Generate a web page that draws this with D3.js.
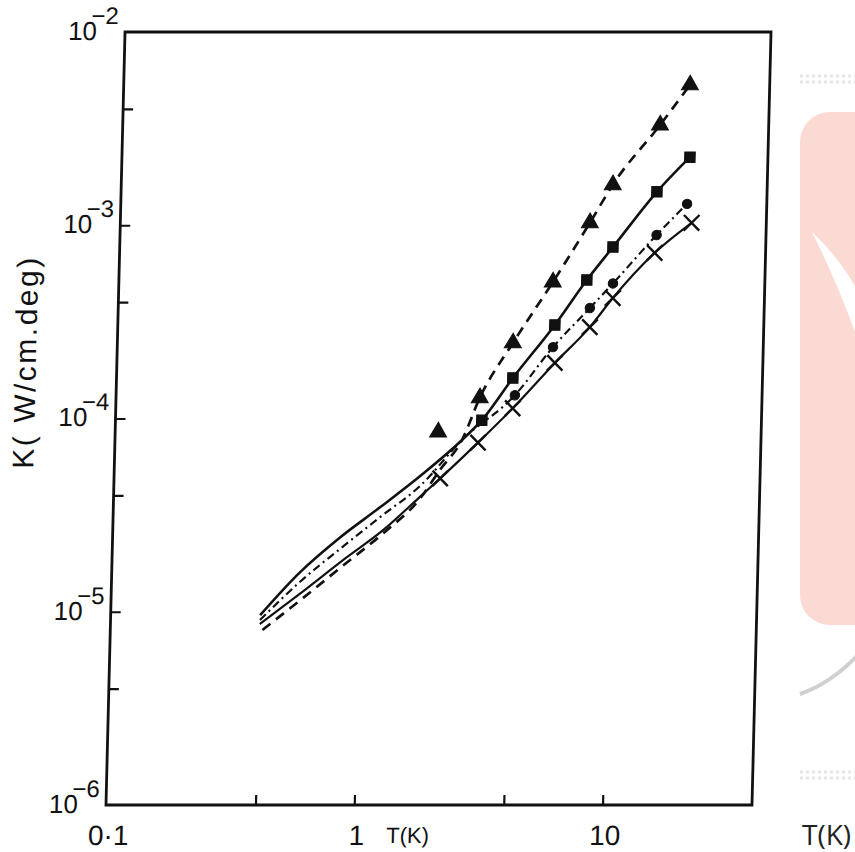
<!DOCTYPE html>
<html>
<head>
<meta charset="utf-8">
<script src="https://cdn.jsdelivr.net/npm/d3@7"></script>
<style>
body { margin: 0; background: #fff; }
svg { display: block; font-family: "Liberation Sans", Arial, sans-serif; }
</style>
</head>
<body>
<div id="chart"></div>
<script>
// values, T in K, K in W/cm.deg
// squares, solid line
var sqCurveT = [0.4, 0.57, 0.82, 1.19, 1.71, 2.5];
var sqCurveK = [9.6e-6, 1.59e-5, 2.41e-5, 3.48e-5, 5.04e-5, 7.74e-5];
var sqMarkT = [2.99, 3.95, 5.76, 7.67, 9.7, 14.4, 19.4];
var sqMarkK = [9.8e-5, 1.62e-4, 3.05e-4, 5.21e-4, 7.71e-4, 1.49e-3, 2.25e-3];

// dots, dash-dot line
var dotCurveT = [0.4, 0.575, 0.825, 1.19, 1.71, 2.5];
var dotCurveK = [9.06e-6, 1.43e-5, 2.11e-5, 3.09e-5, 4.47e-5, 7.74e-5];
var dotMarkT = [4.04, 5.69, 7.94, 9.78, 14.5, 19.1];
var dotMarkK = [1.32e-4, 2.34e-4, 3.73e-4, 5.0e-4, 8.9e-4, 1.29e-3];

// crosses, thin solid line
var crsCurveT = [0.4, 0.594, 0.852, 1.23, 1.71];
var crsCurveK = [8.64e-6, 1.28e-5, 1.85e-5, 2.65e-5, 3.92e-5];
var crsMarkT = [2.06, 2.9, 3.97, 5.81, 7.97, 9.8, 14.3, 20.0];
var crsMarkK = [4.9e-5, 7.5e-5, 1.13e-4, 1.94e-4, 2.97e-4, 4.2e-4, 7.2e-4, 1.03e-3];

// triangles, dashed line (+ one lone point)
var triCurveT = [0.41, 0.594, 0.852, 1.23, 1.71, 2.05, 2.5];
var triCurveK = [8.05e-6, 1.18e-5, 1.73e-5, 2.55e-5, 3.83e-5, 5.42e-5, 7.74e-5];
var triMarkT = [2.92, 3.92, 5.6, 7.79, 9.55, 14.6, 19.1];
var triMarkK = [1.28e-4, 2.46e-4, 5.08e-4, 1.03e-3, 1.62e-3, 3.30e-3, 5.32e-3];
var triLoneT = [2.0];
var triLoneK = [8.5e-5];

// axes
var xTicks = [0.4, 1, 4, 10];
var xLabelVals = [0.1, 1, 10];
var xLabelText = ['0\u00b71', '1', '10'];
var yTicks = [4e-3, 1e-3, 4e-4, 1e-4, 4e-5, 1e-5, 4e-6];
var yLabelExp = [-2, -3, -4, -5, -6];

var width = 855;
var height = 852;

var x = d3.scaleLog().domain([0.1, 40]).range([106, 752]);
var y = d3.scaleLog().domain([1e-6, 1e-2]).range([805, 32]);

var svg = d3.select('#chart').append('svg')
    .attr('width', width)
    .attr('height', height);

// faint watermark on the right side of the scan
var wm = svg.append('g');
wm.append('path')
    .attr('d', 'M800,76 L855,76 M800,82 L855,82')
    .attr('stroke', '#e6e6e6').attr('stroke-width', 3).attr('stroke-dasharray', '3,3');
wm.append('rect')
    .attr('x', 800).attr('y', 112).attr('width', 90).attr('height', 513).attr('rx', 30)
    .attr('fill', '#fcdad4');
wm.append('path')
    .attr('d', 'M812,232 Q840,258 858,292 L858,340 Q838,284 812,232 Z')
    .attr('fill', '#fff');
wm.append('path')
    .attr('d', 'M800,694 Q830,684 858,655')
    .attr('fill', 'none').attr('stroke', '#bcbcbc').attr('stroke-width', 4).attr('opacity', 0.7);
wm.append('path')
    .attr('d', 'M800,772 L855,772 M800,778 L855,778')
    .attr('stroke', '#e6e6e6').attr('stroke-width', 3).attr('stroke-dasharray', '3,3');

svg.append('text')
    .attr('x', 802).attr('y', 845)
    .attr('font-family', '"Open Sans", "Noto Sans", sans-serif')
    .attr('font-size', 28).attr('fill', '#222')
    .text('T(K)');

// the scan is slightly sheared, so the whole figure is skewed a little
var fig = svg.append('g')
    .attr('transform', 'translate(19.8,0) skewX(-1.41)');

fig.append('rect')
    .attr('x', 106).attr('y', 32)
    .attr('width', 646).attr('height', 773)
    .attr('fill', 'none').attr('stroke', '#111').attr('stroke-width', 2.8);

var xAxis = d3.axisBottom(x).tickValues(xTicks).tickSize(-10).tickFormat('');
var yAxis = d3.axisLeft(y).tickValues(yTicks).tickSize(-10).tickFormat('');

fig.append('g')
    .attr('transform', 'translate(0,805)')
    .call(xAxis)
    .call(function (g) { g.select('.domain').remove(); })
    .selectAll('line').attr('stroke', '#111').attr('stroke-width', 2.2);

fig.append('g')
    .attr('transform', 'translate(106,0)')
    .call(yAxis)
    .call(function (g) { g.select('.domain').remove(); })
    .selectAll('line').attr('stroke', '#111').attr('stroke-width', 2.2);

// x tick labels
fig.selectAll('.xlab').data(xLabelVals).enter().append('text')
    .attr('class', 'xlab')
    .attr('x', function (d) { return x(d) + 3; })
    .attr('y', 845)
    .attr('text-anchor', 'middle')
    .attr('font-size', 28).attr('fill', '#111')
    .text(function (d, i) { return xLabelText[i]; });

// axis title, low under the frame as in the scan
fig.append('text')
    .attr('x', 387).attr('y', 843)
    .attr('font-size', 22).attr('fill', '#111')
    .text('T(K)');

// y tick labels 10^n
var ylab = fig.selectAll('.ylab').data(yLabelExp).enter().append('g')
    .attr('class', 'ylab');
ylab.append('text')
    .attr('x', 78)
    .attr('y', function (d) { return y(Math.pow(10, d)) + 8; })
    .attr('text-anchor', 'end')
    .attr('font-size', 26).attr('fill', '#111')
    .text('10');
ylab.append('text')
    .attr('x', 72)
    .attr('y', function (d) { return y(Math.pow(10, d)) - 8; })
    .attr('font-size', 24).attr('fill', '#111')
    .text(function (d) { return '\u2212' + (-d); });

fig.append('text')
    .attr('transform', 'translate(25,362) rotate(-90)')
    .attr('text-anchor', 'middle')
    .attr('font-size', 30).attr('letter-spacing', 2.5).attr('fill', '#111')
    .text('K( W/cm.deg)');

var line = d3.line()
    .x(function (d) { return x(d[0]); })
    .y(function (d) { return y(d[1]); })
    .curve(d3.curveMonotoneX);

var series = [
    { t: sqCurveT.concat(sqMarkT), k: sqCurveK.concat(sqMarkK), dash: null, w: 2.6 },
    { t: dotCurveT.concat(dotMarkT), k: dotCurveK.concat(dotMarkK), dash: '8,4,2,4', w: 2.2 },
    { t: crsCurveT.concat(crsMarkT), k: crsCurveK.concat(crsMarkK), dash: null, w: 2.2 },
    { t: triCurveT.concat(triMarkT), k: triCurveK.concat(triMarkK), dash: '10,7', w: 2.7 }
];

fig.selectAll('.curve').data(series).enter().append('path')
    .attr('class', 'curve')
    .attr('d', function (s) { return line(d3.zip(s.t, s.k)); })
    .attr('fill', 'none')
    .attr('stroke', '#111')
    .attr('stroke-width', function (s) { return s.w; })
    .attr('stroke-dasharray', function (s) { return s.dash; });

// markers
var crossType = d3.symbolTimes || d3.symbolCross;
var marks = [
    { t: sqMarkT, k: sqMarkK, type: d3.symbolSquare, size: 110, fill: true },
    { t: dotMarkT, k: dotMarkK, type: d3.symbolCircle, size: 70, fill: true },
    { t: crsMarkT, k: crsMarkK, type: crossType, size: 160, fill: false },
    { t: triMarkT.concat(triLoneT), k: triMarkK.concat(triLoneK), type: d3.symbolTriangle, size: 125, fill: true }
];

marks.forEach(function (m) {
    var sym = d3.symbol().type(m.type).size(m.size);
    fig.selectAll(null).data(d3.zip(m.t, m.k)).enter().append('path')
        .attr('transform', function (d) { return 'translate(' + x(d[0]) + ',' + y(d[1]) + ')'; })
        .attr('d', sym)
        .attr('fill', m.fill ? '#111' : 'none')
        .attr('stroke', '#111')
        .attr('stroke-width', m.fill ? 1 : 2.4);
});
</script>
</body>
</html>
